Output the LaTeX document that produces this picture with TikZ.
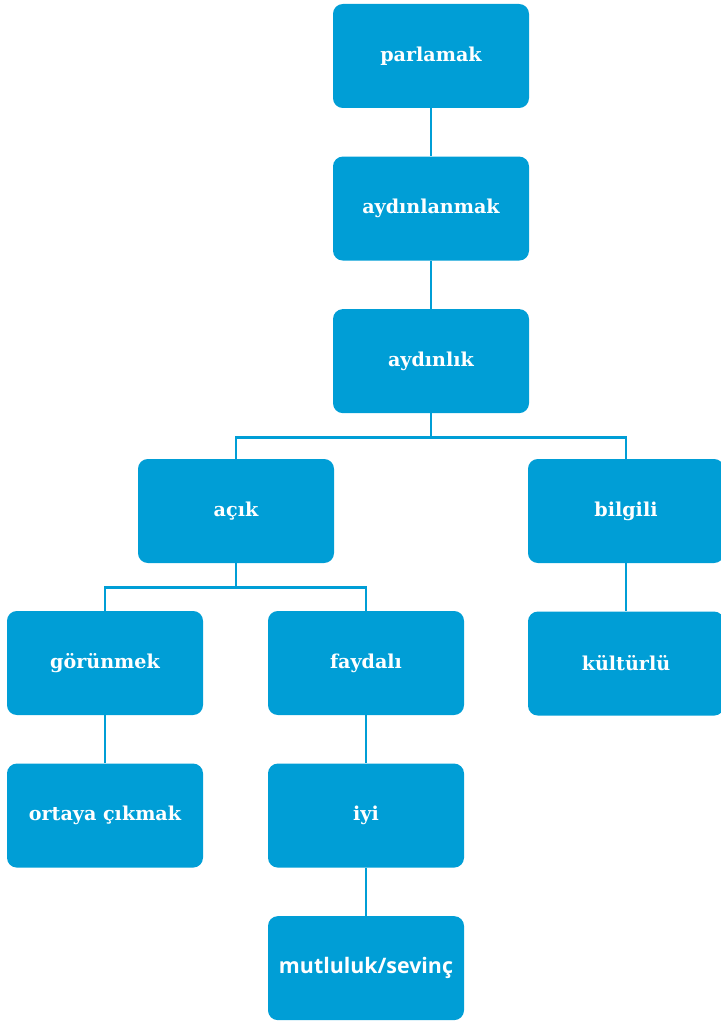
\documentclass[tikz,border=0pt]{standalone}
\usepackage{fontspec}
\setmainfont{DejaVu Serif}
\newfontfamily\kutusans{Open Sans}
\usetikzlibrary{positioning}
\definecolor{kutumavi}{RGB}{0,158,214}

\begin{document}
\begin{tikzpicture}[
            node distance=1.2cm,
            kutu/.style={
                    rectangle,
                    rounded corners=7pt,
                    fill=kutumavi,
                    draw=none,
                    align=center,
                    minimum width=4.9cm,
                    minimum height=2.6cm,
                    text=white,
                    font=\fontsize{13.6}{16}\selectfont\bfseries
                },
            bag/.style={
                    draw=kutumavi,
                    line width=2pt
                }
        ]
        \useasboundingbox (0,0) rectangle (18.025,-25.525);

        % ana zincir
        \node[kutu] (parlamak) at (10.775,-1.4) {parlamak};
        \node[kutu, below=of parlamak] (aydinlanmak) {aydınlanmak};
        \node[kutu, below=of aydinlanmak] (aydinlik) {aydınlık};

        % ikinci duzey
        \node[kutu] (acik) at (5.9,-12.775) {açık};
        \node[kutu] (bilgili) at (15.65,-12.775) {bilgili};

        % ucuncu duzey
        \node[kutu] (gorunmek) at (2.625,-16.575) {görünmek};
        \node[kutu] (faydali) at (9.15,-16.575) {faydalı};
        \node[kutu, below=of bilgili] (kulturlu) {kültürlü};
        \node[kutu, below=of gorunmek] (ortaya) {ortaya çıkmak};
        \node[kutu, below=of faydali] (iyi) {iyi};
        \node[kutu, below=of iyi, font=\kutusans\fontsize{15.2}{18}\selectfont\bfseries] (mutluluk) {mutluluk/sevinç};

        % baglantilar
        \draw[bag] (parlamak) -- (aydinlanmak);
        \draw[bag] (aydinlanmak) -- (aydinlik);
        \draw[bag] (aydinlik.south) -- ++(0,-0.6) -| (acik.north);
        \draw[bag] (aydinlik.south) -- ++(0,-0.6) -| (bilgili.north);
        \draw[bag] (acik.south) -- ++(0,-0.6) -| (gorunmek.north);
        \draw[bag] (acik.south) -- ++(0,-0.6) -| (faydali.north);
        \draw[bag] (bilgili) -- (kulturlu);
        \draw[bag] (gorunmek) -- (ortaya);
        \draw[bag] (faydali) -- (iyi);
        \draw[bag] (iyi) -- (mutluluk);

    \end{tikzpicture}
\end{document}
